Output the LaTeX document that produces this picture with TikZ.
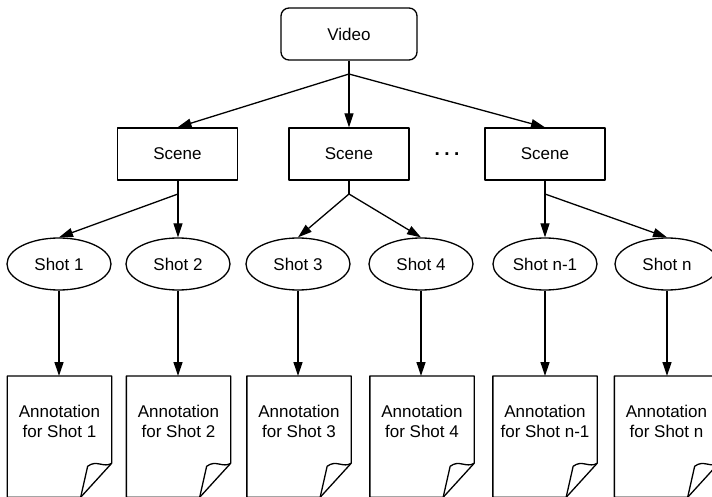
\documentclass[tikz,border=0pt]{standalone}
\usepackage{fontspec}
\setmainfont{Liberation Sans}
\usetikzlibrary{arrows.meta,shapes.geometric}

\begin{document}
\begin{tikzpicture}[x=1bp,y=-1bp,>={Triangle[length=14bp,width=9bp]},line join=bevel,
  every node/.style={font=\fontsize{17bp}{20bp}\selectfont},
  videobox/.style={draw,rounded corners=8bp,minimum width=136bp,minimum height=52bp},
  scenebox/.style={draw,minimum width=120bp,minimum height=52bp},
  shotnode/.style={draw,ellipse,minimum width=104bp,minimum height=52bp,inner sep=0pt},
  annbox/.style={minimum width=103bp,minimum height=120bp,inner sep=0pt,anchor=north},
  anntext/.style={align=center,inner sep=0pt}]

\pgfsetlinewidth{1.3bp}
\pgfsetcolor{black}
\useasboundingbox (0,0) rectangle (712,497);

% Node: video
\node [videobox] (video) at (349,34) {Video};

% Node: scenes
\node [scenebox] (scene1) at (177.5,154) {Scene};
\node [scenebox] (scene2) at (349,154) {Scene};
\node [scenebox] (scene3) at (545,154) {Scene};
\node [inner sep=0pt,font=\fontsize{19bp}{20bp}\selectfont\bfseries] (dots) at (447,154) {.\hspace{4.5bp}.\hspace{4.5bp}.};

% Node: shots
\node [shotnode] (shot1) at (59,264) {Shot 1};
\node [shotnode] (shot2) at (178,264) {Shot 2};
\node [shotnode] (shot3) at (298,264) {Shot 3};
\node [shotnode] (shot4) at (421,264) {Shot 4};
\node [shotnode] (shot5) at (545,264) {Shot n-1};
\node [shotnode] (shot6) at (667,264) {Shot n};

% Node: annotations
\node [annbox] (ann1) at (59.5,376) {};
\node [annbox] (ann2) at (178.5,376) {};
\node [annbox] (ann3) at (299,376) {};
\node [annbox] (ann4) at (422,376) {};
\node [annbox] (ann5) at (545,376) {};
\node [annbox] (ann6) at (666.5,376) {};
\node [anntext] (ann1t) at (59.5,421) {Annotation\\for Shot 1};
\node [anntext] (ann2t) at (178.5,421) {Annotation\\for Shot 2};
\node [anntext] (ann3t) at (299,421) {Annotation\\for Shot 3};
\node [anntext] (ann4t) at (422,421) {Annotation\\for Shot 4};
\node [anntext] (ann5t) at (545,421) {Annotation\\for Shot n-1};
\node [anntext] (ann6t) at (666.5,421) {Annotation\\for Shot n};

% Page outlines with the folded corner
\foreach \a in {ann1,ann2,ann3,ann4,ann5,ann6} {
  \draw (\a.south west) -- (\a.north west) -- (\a.north east)
    -- ([yshift=34bp]\a.south east) -- ([xshift=-31bp]\a.south east) -- cycle;
  \draw ([yshift=34bp]\a.south east)
    .. controls ([xshift=-8bp,yshift=29bp]\a.south east) and ([xshift=-15bp,yshift=38bp]\a.south east)
    .. ([xshift=-24bp,yshift=31bp]\a.south east) -- ([xshift=-31bp]\a.south east);
}

% Edge: video -> scenes
\coordinate (vj) at (349,74);
\draw (video.south) -- (vj);
\draw [->] (vj) -- (scene1.north);
\draw [->] (vj) -- (scene2.north);
\draw [->] (vj) -- (scene3.north);

% Edge: scene1 -> shot1, shot2
\coordinate (sj1) at (178,194);
\draw (scene1.south -| sj1) -- (sj1);
\draw [->] (sj1) -- (shot1.north);
\draw [->] (sj1) -- (shot2.north);

% Edge: scene2 -> shot3, shot4
\coordinate (sj2) at (349,194);
\draw (scene2.south) -- (sj2);
\draw [->] (sj2) -- (shot3.north);
\draw [->] (sj2) -- (shot4.north);

% Edge: scene3 -> shot5, shot6
\coordinate (sj3) at (545,194);
\draw (scene3.south) -- (sj3);
\draw [->] (sj3) -- (shot5.north);
\draw [->] (sj3) -- (shot6.north);

% Edge: shots -> annotations
\draw [->] (shot1.south) -- (ann1.north -| shot1.south);
\draw [->] (shot2.south) -- (ann2.north -| shot2.south);
\draw [->] (shot3.south) -- (ann3.north -| shot3.south);
\draw [->] (shot4.south) -- (ann4.north -| shot4.south);
\draw [->] (shot5.south) -- (ann5.north);
\draw [->] (shot6.south) -- (ann6.north -| shot6.south);

\end{tikzpicture}
\end{document}
